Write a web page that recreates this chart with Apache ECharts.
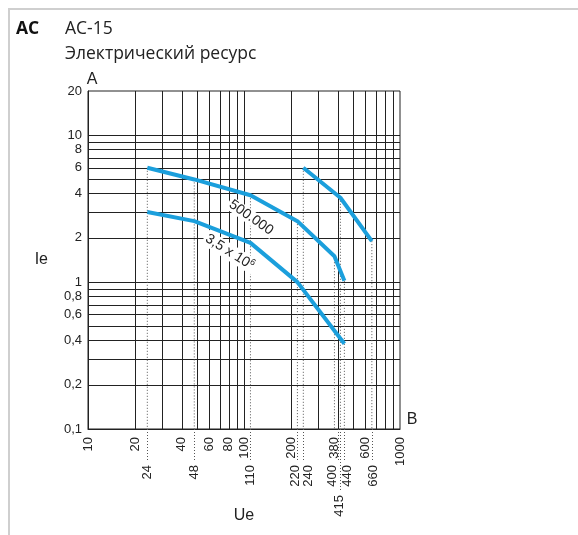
<!DOCTYPE html>
<html>
<head>
<meta charset="utf-8">
<script src="https://cdn.jsdelivr.net/npm/echarts@6/dist/echarts.min.js"></script>
<style>
html,body{margin:0;padding:0;background:#fff}
#chart{width:578px;height:535px}
</style>
</head>
<body>
<div id="chart"></div>
<script>
// кривые ресурса: [Ue, Ie]
var curve500k = [[24,6],[48,5],[110,3.9],[220,2.6],[380,1.5],[440,1.02]];
var curve35m = [[24,3],[48,2.6],[110,1.85],[220,1.0],[440,0.38]];
var curveHigh = [[240,6],[415,3.75],[660,1.9]];

// подписи кривых (точка привязки в координатах данных)
var label500kAt = [111,2.75];
var label35mAt = [81,1.6];

// подписи оси X в три ряда
var xLabelsRow1 = [10,20,40,60,80,100,200,380,600,1000];
var xLabelsRow2 = [24,48,110,220,240,400,440,660];
var xLabelsRow3 = [415];
var xGrid = [20,30,40,50,60,70,80,90,100,200,300,400,500,600,700,800,900];

var yLabels = [0.1,0.2,0.4,0.6,0.8,1,2,4,6,8,10,20];
var yGrid = [0.2,0.3,0.4,0.5,0.6,0.7,0.8,0.9,1,2,3,4,5,6,7,8,9,10];

var BLUE = '#1b9fdc';
var INK = '#222';
var FONT = 'Liberation Sans';
var HEAD = '"Open Sans", sans-serif';

// сдвиг тесных подписей вбок (px, + вправо)
var nudge = {220:-2, 240:5, 400:-5, 440:3, 415:-1, 660:2};

function xLabelStyle(margin){
	var rich = {n:{fontSize:13, fontFamily:FONT, color:INK}};
	Object.keys(nudge).forEach(function(k){
		var s = nudge[k];
		rich['v' + k] = {fontSize:13, fontFamily:FONT, color:INK,
			padding: s > 0 ? [2*s,0,0,0] : [0,0,-2*s,0]};
	});
	return {
		rotate:90, margin:margin, fontSize:13, color:INK, fontFamily:FONT, rich:rich,
		formatter:function(v){
			var key = nudge[v] ? 'v' + v : 'n';
			return '{' + key + '|' + String(v) + '}';
		}
	};
}

// пунктир от верхней точки кривой вниз до оси
function dropLines(){
	var top = {};
	[curve500k, curve35m, curveHigh].forEach(function(c){
		c.forEach(function(p){
			if (!(p[0] in top) || top[p[0]] < p[1]) top[p[0]] = p[1];
		});
	});
	return Object.keys(top).map(function(k){
		return {
			type:'line', data:[[+k, top[k]], [+k, 0.1]], symbol:'none', silent:true,
			lineStyle:{color:'#555', width:1, type:[1,2]}, z:2
		};
	});
}

function rowAxis(values, len){
	var lab = xLabelStyle(len + 3);
	lab.customValues = values;
	return {
		type:'log', min:10, max:1000, position:'bottom', gridIndex:0,
		axisLine:{show:false},
		axisTick:{show:true, customValues:values, length:len, lineStyle:{color:'#555', width:1, type:[1,2]}},
		axisLabel:lab,
		splitLine:{show:false}
	};
}

function curve(data, labelAt, text, rot){
	var s = {
		type:'line', data:data, symbol:'none', silent:true, z:5,
		lineStyle:{color:BLUE, width:4}
	};
	if (labelAt) {
		s.markPoint = {
			symbol:'circle', symbolSize:1, silent:true,
			itemStyle:{color:'transparent'},
			data:[{coord:labelAt}],
			label:{
				show:true, position:'inside', formatter:text, rotate:rot,
				backgroundColor:'#fff', padding:[0,2], color:INK,
				fontSize:14, fontFamily:FONT,
				rich:{s:{fontSize:9, fontFamily:FONT, color:INK, verticalAlign:'top', padding:[0,0,7,0]}}
			}
		};
	}
	return s;
}

var row1 = xLabelStyle(8);
row1.customValues = xLabelsRow1;

var option = {
	animation:false,
	backgroundColor:'#fff',
	grid:{left:88, right:178, top:91, bottom:106, show:true, borderColor:INK, borderWidth:1, containLabel:false, outerBoundsMode:'none'},
	xAxis:[
		{
			type:'log', min:10, max:1000, position:'bottom',
			name:'Ue', nameLocation:'middle', nameGap:79,
			nameTextStyle:{fontSize:16, color:INK, fontFamily:FONT},
			axisLine:{show:true, lineStyle:{color:INK, width:1}},
			axisTick:{show:false, customValues:xGrid},
			axisLabel:row1,
			splitLine:{show:true, lineStyle:{color:INK, width:1}}
		},
		rowAxis(xLabelsRow2, 33),
		rowAxis(xLabelsRow3, 63)
	],
	yAxis:{
		type:'log', min:0.1, max:20,
		name:'Ie', nameLocation:'middle', nameGap:40, nameRotate:0,
		nameTextStyle:{fontSize:16, color:INK, fontFamily:FONT},
		axisLine:{show:true, lineStyle:{color:INK, width:1}},
		axisTick:{show:false, customValues:yGrid},
		axisLabel:{customValues:yLabels, margin:6, fontSize:13, color:INK, fontFamily:FONT,
			formatter:function(v){ return String(v).replace('.', ','); }},
		splitLine:{show:true, lineStyle:{color:INK, width:1}}
	},
	graphic:[
		{type:'line', shape:{x1:8, y1:9, x2:578, y2:9}, style:{stroke:'#cfcfcf', lineWidth:2}},
		{type:'line', shape:{x1:9, y1:8, x2:9, y2:535}, style:{stroke:'#cfcfcf', lineWidth:2}},
		{type:'text', x:16, y:29, style:{text:'AC', font:'bold 17.5px ' + HEAD, fill:'#111', verticalAlign:'middle'}},
		{type:'text', x:65, y:29, style:{text:'AC-15', font:'17.5px ' + HEAD, fill:INK, verticalAlign:'middle'}},
		{type:'text', x:65, y:54, style:{text:'Электрический ресурс', font:'17.5px ' + HEAD, fill:INK, verticalAlign:'middle'}},
		{type:'text', x:92, y:80, style:{text:'A', font:'16px ' + FONT, fill:INK, align:'center', verticalAlign:'middle'}},
		{type:'text', x:412, y:420, style:{text:'B', font:'16px ' + FONT, fill:INK, align:'center', verticalAlign:'middle'}}
	],
	series:[
		curve(curve500k, label500kAt, '500.000', -35),
		curve(curve35m, label35mAt, '3,5 x 10{s|6}', -32),
		curve(curveHigh)
	].concat(dropLines())
};

var myChart = echarts.init(document.getElementById('chart'));
myChart.setOption(option);
</script>
</body>
</html>
